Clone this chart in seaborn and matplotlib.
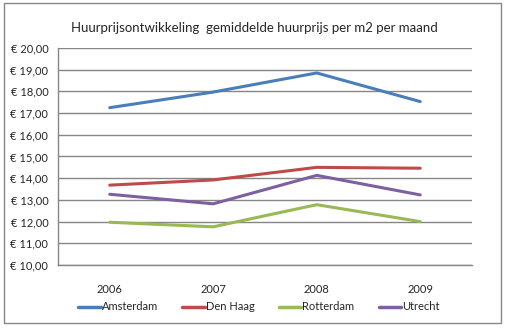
import matplotlib
matplotlib.use("Agg")
import matplotlib.pyplot as plt
import seaborn as sns
import pandas as pd
from matplotlib.patches import Rectangle
from matplotlib.lines import Line2D

years = ["2006", "2007", "2008", "2009"]
amsterdam = [17.25, 17.97, 18.85, 17.53]
den_haag = [13.68, 13.92, 14.50, 14.46]
rotterdam = [11.97, 11.76, 12.78, 12.00]
utrecht = [13.26, 12.82, 14.13, 13.23]
series_names = ["Amsterdam", "Den Haag", "Rotterdam", "Utrecht"]
colors = ["#4A7EBB", "#BE4B48", "#98B954", "#7D60A0"]
title = "Huurprijsontwikkeling  gemiddelde huurprijs per m2 per maand"

rows = []
for name, vals in zip(series_names, [amsterdam, den_haag, rotterdam, utrecht]):
    for i, v in enumerate(vals):
        rows.append({"idx": i, "value": v, "stad": name})
df = pd.DataFrame(rows)

sns.set_style("white")
plt.rcParams["font.family"] = ["Lato", "DejaVu Sans"]

fig = plt.figure(figsize=(5.09, 3.29), dpi=100)
ax = fig.add_axes([58/509, 1-265/329, (472-58)/509, (265-48)/329])

sns.lineplot(data=df, x="idx", y="value", hue="stad", palette=colors,
             linewidth=2.2, ax=ax, legend=False)

ax.set_xlim(-0.5, 3.5)
ax.set_ylim(10, 20)
ax.set_yticks(range(10, 21))
ax.set_yticklabels([f"€ {v},00" for v in range(10, 21)], fontsize=8)
ax.set_xticks([-0.5, 0.5, 1.5, 2.5, 3.5])
ax.set_xticklabels([])
ax.set_xticks(range(4), minor=True)
ax.set_xticklabels(years, minor=True, fontsize=8)
ax.tick_params(axis="x", which="minor", length=0, pad=14)
ax.tick_params(axis="x", which="major", length=4, color="#868686", direction="out")
ax.tick_params(axis="y", length=4, color="#868686", direction="out", pad=3)
ax.yaxis.grid(True, color="#868686", linewidth=1)
ax.set_axisbelow(True)
ax.set_xlabel("")
ax.set_ylabel("")
for s in ["top", "right"]:
    ax.spines[s].set_visible(False)
for s in ["left", "bottom"]:
    ax.spines[s].set_color("#868686")
    ax.spines[s].set_linewidth(1)

fig.text(0.5, 1-28/329, title, ha="center", va="center", fontsize=9.5)

handles = [Line2D([0], [0], color=c, lw=2.5) for c in colors]
fig.legend(handles, series_names, loc="center", bbox_to_anchor=(259/509, 1-307/329),
           ncol=4, frameon=False, fontsize=8, handlelength=2.0, handletextpad=0.1,
           columnspacing=2.2)

fig.patches.append(Rectangle((4/509, 1-323/329), (501-4)/509, (323-3)/329,
                             transform=fig.transFigure, fill=False,
                             edgecolor="#868686", linewidth=1))

fig.savefig("out.png", dpi=100)
